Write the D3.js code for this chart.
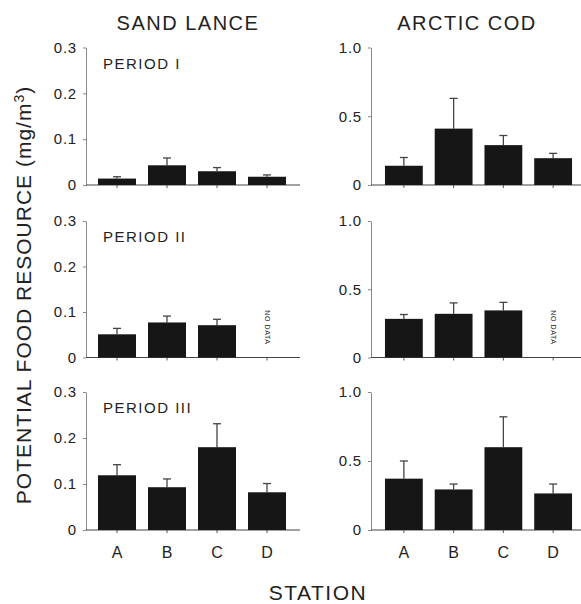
<!DOCTYPE html>
<html>
<head>
<meta charset="utf-8">
<script src="https://cdn.jsdelivr.net/npm/d3@7"></script>
<style>
  body { margin: 0; background: #fff; }
  text { font-family: "Liberation Sans", Arial, sans-serif; fill: #222; }
</style>
</head>
<body>
<script>
// station / period / species labels
var stations = ["A", "B", "C", "D"];
var periods = ["PERIOD I", "PERIOD II", "PERIOD III"];
var species = ["SAND LANCE", "ARCTIC COD"];

// means (null = no data) and error bar lengths, per period
var sandLanceMean = [[0.014, 0.043, 0.030, 0.018], [0.051, 0.077, 0.071, null], [0.119, 0.093, 0.180, 0.082]];
var sandLanceErr = [[0.004, 0.016, 0.008, 0.004], [0.013, 0.014, 0.013, null], [0.023, 0.018, 0.051, 0.019]];
var arcticCodMean = [[0.14, 0.41, 0.29, 0.195], [0.283, 0.32, 0.345, null], [0.372, 0.294, 0.60, 0.265]];
var arcticCodErr = [[0.06, 0.22, 0.07, 0.035], [0.032, 0.08, 0.059, null], [0.128, 0.039, 0.22, 0.068]];

var yMax = [0.3, 1.0];
var yTicks = [[0, 0.1, 0.2, 0.3], [0, 0.5, 1.0]];

var width = 581, height = 604;
var svg = d3.select("body").append("svg").attr("width", width).attr("height", height);

var colAxisX = [86, 371];
var colRange = [[92, 292], [379, 578]];
var colEnd = [300, 581];
var rowY = [[185, 47.5], [357.5, 221], [530, 392]];
var means = [sandLanceMean, arcticCodMean];
var errs = [sandLanceErr, arcticCodErr];

var fmt = function(d) { return d === 0 ? "0" : d3.format(".1f")(d); };

for (var c = 0; c < 2; c++) {
  var x = d3.scaleBand().domain(stations).range(colRange[c]).paddingInner(0.24).paddingOuter(0.12);
  for (var r = 0; r < 3; r++) {
    var y = d3.scaleLinear().domain([0, yMax[c]]).range(rowY[r]);
    var g = svg.append("g");

    // y axis
    var ya = g.append("g").attr("transform", "translate(" + colAxisX[c] + ",0)")
      .call(d3.axisLeft(y).tickValues(yTicks[c]).tickFormat(fmt).tickSize(3).tickSizeOuter(0).tickPadding(6));
    ya.select(".domain").attr("stroke", "#888");
    ya.selectAll(".tick line").attr("stroke", "#888");
    ya.selectAll(".tick text").attr("font-size", 15).attr("letter-spacing", "0.8px")
      .attr("font-family", "Liberation Sans, Arial, sans-serif").attr("fill", "#333");

    // baseline
    g.append("line").attr("x1", colAxisX[c]).attr("x2", colEnd[c])
      .attr("y1", y(0)).attr("y2", y(0)).attr("stroke", "#444").attr("stroke-width", 1.2);

    // x ticks
    g.selectAll(".xt").data(stations).enter().append("line")
      .attr("x1", function(d) { return x(d) + x.bandwidth() / 2; })
      .attr("x2", function(d) { return x(d) + x.bandwidth() / 2; })
      .attr("y1", y(0)).attr("y2", y(0) + 3).attr("stroke", "#555");

    var rows = stations.map(function(s, i) { return { s: s, v: means[c][r][i], e: errs[c][r][i] }; });
    var have = rows.filter(function(d) { return d.v !== null; });

    // error bars
    g.selectAll(".eb").data(have).enter().append("line")
      .attr("x1", function(d) { return x(d.s) + x.bandwidth() / 2; })
      .attr("x2", function(d) { return x(d.s) + x.bandwidth() / 2; })
      .attr("y1", function(d) { return y(d.v); })
      .attr("y2", function(d) { return y(d.v + d.e); })
      .attr("stroke", "#444").attr("stroke-width", 1.3);
    g.selectAll(".ec").data(have).enter().append("line")
      .attr("x1", function(d) { return x(d.s) + x.bandwidth() / 2 - 4; })
      .attr("x2", function(d) { return x(d.s) + x.bandwidth() / 2 + 4; })
      .attr("y1", function(d) { return y(d.v + d.e); })
      .attr("y2", function(d) { return y(d.v + d.e); })
      .attr("stroke", "#444").attr("stroke-width", 1.3);

    // bars
    g.selectAll(".bar").data(have).enter().append("rect")
      .attr("x", function(d) { return x(d.s); })
      .attr("width", x.bandwidth())
      .attr("y", function(d) { return y(d.v); })
      .attr("height", function(d) { return y(0) - y(d.v); })
      .attr("fill", "#161616");

    // no data
    rows.filter(function(d) { return d.v === null; }).forEach(function(d) {
      var cx = x(d.s) + x.bandwidth() / 2, cy = y(0) - 30;
      g.append("text").attr("transform", "translate(" + cx + "," + cy + ") rotate(90)")
        .attr("text-anchor", "middle").attr("dy", "0.35em")
        .attr("font-size", 7).attr("letter-spacing", "0.6px").attr("fill", "#666").text("NO DATA");
    });

    // x labels on bottom row
    if (r === 2) {
      g.selectAll(".xl").data(stations).enter().append("text")
        .attr("x", function(d) { return x(d) + x.bandwidth() / 2; })
        .attr("y", y(0) + 28).attr("text-anchor", "middle")
        .attr("font-size", 16).text(function(d) { return d; });
    }

    if (c === 0) {
      g.append("text").attr("x", 103).attr("y", rowY[r][1] + 21)
        .attr("font-size", 15).attr("letter-spacing", "1.5px").text(periods[r]);
    }
  }
}

// column titles
svg.selectAll(".title").data(species).enter().append("text")
  .attr("x", function(d, i) { return [188, 467][i]; })
  .attr("y", 30).attr("text-anchor", "middle")
  .attr("font-size", 20).attr("letter-spacing", "1.5px").text(function(d) { return d; });

// y title
var yt = svg.append("text").attr("transform", "translate(31,295) rotate(-90)")
  .attr("text-anchor", "middle").attr("font-size", 21).attr("letter-spacing", "1px");
yt.append("tspan").text("POTENTIAL FOOD RESOURCE (mg/m");
yt.append("tspan").attr("dy", -7).attr("font-size", 14).text("3");
yt.append("tspan").attr("dy", 7).text(")");

// x title
svg.append("text").attr("x", 318).attr("y", 600).attr("text-anchor", "middle")
  .attr("font-size", 21).attr("letter-spacing", "1.5px").text("STATION");
</script>
</body>
</html>
